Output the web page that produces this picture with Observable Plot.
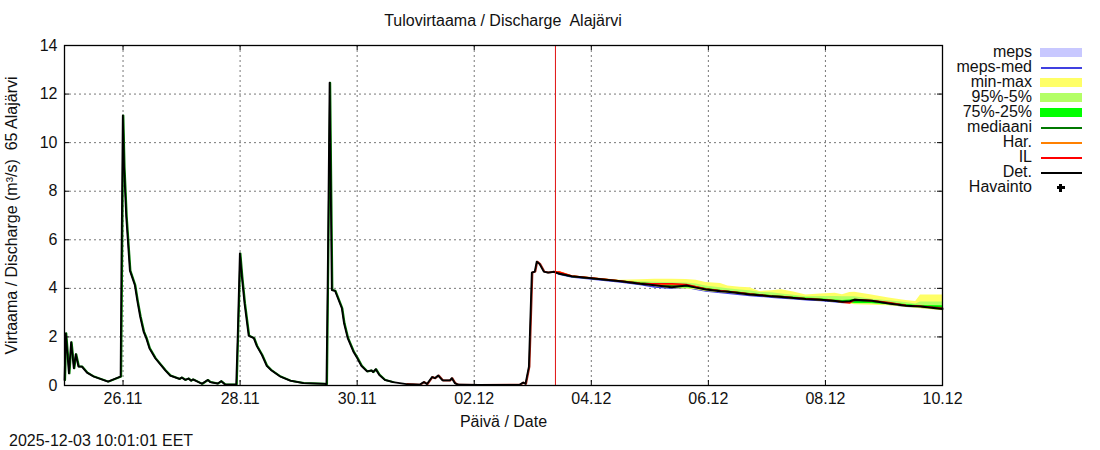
<!DOCTYPE html>
<html><head><meta charset="utf-8">
<script src="https://cdn.jsdelivr.net/npm/d3@7"></script>
<script src="https://cdn.jsdelivr.net/npm/@observablehq/plot@0.6"></script>
<style>
html,body{margin:0;padding:0;background:#fff}
#wrap{position:relative;width:1100px;height:450px;overflow:hidden;font-family:"Liberation Sans",Arial,sans-serif;color:#111}
#wrap svg{display:block;position:absolute;left:0;top:0}
.t{position:absolute;white-space:pre;font-size:16px;line-height:16px}
#title{left:0;width:1006px;top:13px;text-align:center}
#stamp{left:9px;top:433px;font-size:16px}
#legend{position:absolute;left:950px;top:44px;width:140px}
.row{position:absolute;left:0;width:140px;height:15px}
.row span{position:absolute;right:58px;top:0;font-size:16px;line-height:16px;white-space:pre}
.row i{position:absolute;left:90px;width:42px;display:block}
</style></head><body><div id="wrap">
<div class="t" id="title">Tulovirtaama / Discharge  Alajärvi</div>
<div class="t" id="stamp">2025-12-03 10:01:01 EET</div>
<div id="legend"></div>
</div>
<script>
// hours since 25.11 00:00
const t0 = Date.UTC(2025,10,25);
const obsHours = [0,0.5,1.8,2.7,3.8,4.6,5.7,7.1,9.2,11.9,17.8,23,23.3,23.9,24.4,25.3,26.8,28.8,29.9,31,32.4,33.5,34.8,37.2,41.3,43.3,47.1,48,49.5,50.8,51.8,52.6,56.3,58.7,59.7,62.8,64.2,65.8,70.4,71,71.9,72.7,73.8,75.5,77.6,78.8,80.9,82.9,84.6,88.4,92.5,97.9,106.8,107.4,107.9,108.7,109.6,110.9,113.7,114.6,116.1,118.4,120,121.7,124,125.8,126.5,127.6,129,131.3,134.7,140.2,145.6,147.3,148.6,150.7,151.8,153.2,155,158,158.8,160,161.4,170,186.6,188,189,190.4,191.6,192.8,193.6,194.8,196.5,198.2,200.6];
const obsValues = [0.23,2.15,0.5,1.78,0.71,1.29,0.78,0.78,0.53,0.37,0.16,0.37,4.5,11.12,9,6.95,4.73,4.14,3.45,2.84,2.22,1.95,1.53,1.12,0.62,0.41,0.27,0.33,0.23,0.29,0.2,0.25,0.07,0.23,0.14,0.08,0.18,0.04,0.04,2,5.44,4.48,3.38,2.05,1.95,1.63,1.26,0.81,0.64,0.37,0.2,0.1,0.07,0.05,4.2,12.47,3.93,3.9,3.18,2.56,1.95,1.4,1.13,0.81,0.58,0.62,0.55,0.67,0.44,0.23,0.14,0.06,0.03,0.14,0.06,0.35,0.3,0.41,0.21,0.21,0.3,0.1,0.03,0.02,0.03,0.12,0.07,0.78,4.65,4.69,5.1,5.0,4.69,4.65,4.68];

const fcHours = [200.6,203,208,222,228,236,242,249,255,259,263,269,272,277,281,285,290,294,299,304,310,316,319,322,324,331,338,345,349,351,360];
const det   = [4.68,4.6,4.5,4.35,4.29,4.19,4.13,4.05,4.12,4.03,3.95,3.88,3.86,3.8,3.75,3.72,3.67,3.64,3.6,3.56,3.53,3.48,3.45,3.47,3.53,3.49,3.38,3.28,3.26,3.25,3.15];
const il    = [4.68,4.66,4.51,4.36,4.3,4.2,4.19,4.19,4.16,4.07,3.97,3.9,3.87,3.82,3.77,3.73,3.68,3.66,3.61,3.57,3.54,3.49,3.43,3.4,3.54,3.5,3.42,3.29,3.28,3.26,3.17];
const har   = [4.68,4.68,4.51,4.37,4.3,4.21,4.17,4.16,4.15,4.06,3.96,3.89,3.87,3.81,3.76,3.73,3.68,3.65,3.61,3.57,3.53,3.49,3.45,3.44,3.53,3.49,3.4,3.29,3.27,3.25,3.16];
const med   = [4.68,4.6,4.49,4.35,4.3,4.22,4.18,4.12,4.12,4.05,3.97,3.9,3.87,3.82,3.78,3.74,3.69,3.66,3.61,3.57,3.53,3.48,3.44,3.46,3.5,3.47,3.39,3.3,3.27,3.26,3.2];
const mepsMed = [4.68,4.58,4.47,4.32,4.26,4.16,4.06,4.0,4.04,3.96,3.89,3.83,3.8,3.75,3.71,3.68,3.63,3.6,3.57,3.53,3.5,3.45,3.42,3.43,3.47,3.44,3.35,3.26,3.24,3.22,3.14];
const mepsHi = [4.68,4.62,4.5,4.36,4.3,4.22,4.16,4.08,4.14,4.05,3.96,3.9,3.87,3.81,3.76,3.73,3.68,3.65,3.61,3.57,3.54,3.49,3.46,3.48,3.54,3.5,3.4,3.3,3.28,3.26,3.18];
const mepsLo = [4.66,4.56,4.45,4.3,4.24,4.14,4.04,3.98,4.02,3.94,3.87,3.81,3.78,3.73,3.69,3.66,3.61,3.58,3.55,3.51,3.48,3.43,3.4,3.41,3.45,3.42,3.33,3.24,3.22,3.2,3.12];
const minTop = [4.68,4.68,4.52,4.37,4.33,4.35,4.37,4.38,4.36,4.33,4.24,4.2,4.1,4.05,4.03,3.87,3.9,3.94,3.85,3.73,3.77,3.8,3.74,3.83,3.84,3.73,3.6,3.5,3.46,3.73,3.73];
const minLow = [4.66,4.58,4.47,4.32,4.26,4.15,4.08,3.98,3.97,3.94,3.87,3.82,3.8,3.75,3.71,3.68,3.63,3.6,3.56,3.52,3.49,3.44,3.38,3.36,3.33,3.3,3.28,3.22,3.18,3.16,3.08];
const p95Top = [4.68,4.66,4.51,4.36,4.31,4.27,4.25,4.23,4.22,4.18,4.1,4.02,3.98,3.93,3.9,3.83,3.82,3.77,3.72,3.65,3.66,3.66,3.65,3.65,3.65,3.55,3.49,3.42,3.36,3.44,3.44];
const p95Low = [4.66,4.59,4.48,4.33,4.27,4.16,4.09,4.0,3.99,3.96,3.89,3.84,3.82,3.77,3.72,3.69,3.64,3.61,3.57,3.53,3.5,3.45,3.4,3.38,3.36,3.35,3.3,3.24,3.2,3.18,3.1];
const q75Top = [4.68,4.63,4.5,4.35,4.3,4.22,4.18,4.14,4.13,4.08,4.0,3.92,3.89,3.84,3.78,3.75,3.71,3.68,3.64,3.6,3.57,3.52,3.5,3.52,3.55,3.5,3.42,3.34,3.3,3.29,3.28];
const q75Low = [4.67,4.6,4.49,4.34,4.28,4.18,4.11,4.03,4.02,4.0,3.93,3.86,3.84,3.78,3.73,3.7,3.65,3.62,3.58,3.54,3.51,3.46,3.43,3.4,3.38,3.38,3.33,3.27,3.24,3.23,3.13];

const tickDates = [[2025,10,26],[2025,10,28],[2025,10,30],[2025,11,2],[2025,11,4],[2025,11,6],[2025,11,8],[2025,11,10]];
const tickLabels = ["26.11","28.11","30.11","02.12","04.12","06.12","08.12","10.12"];
const yTicks = [0,2,4,6,8,10,12,14];
const nowHour = 201.3;

const date = h => new Date(t0 + h*3600000);
const xTicks = tickDates.map(d => new Date(Date.UTC(...d)));
const labelOf = new Map(xTicks.map((d,i)=>[+d,tickLabels[i]]));
const obs = obsHours.map((h,i)=>({t:date(h),h,v:obsValues[i]}));
const fc = fcHours.map((h,i)=>({t:date(h),h,det:det[i],il:il[i],har:har[i],med:med[i],mm:mepsMed[i],
  mh:mepsHi[i],ml:mepsLo[i],a1:minTop[i],a2:minLow[i],b1:p95Top[i],b2:p95Low[i],c1:q75Top[i],c2:q75Low[i]}));

const C = {meps:"#c8c8ff",mepsMed:"#4040e0",minmax:"#ffff66",p95:"#b3ff66",q75:"#00ff00",med:"#007800",har:"#ff8000",il:"#ff0000",det:"#000"};
const W = 1100, H = 450, mL = 64, mR = 158, mT = 45, mB = 65;
const plotW = W-mL-mR, plotH = H-mT-mB;

const chart = Plot.plot({
  width:W,height:H,marginLeft:mL,marginRight:mR,marginTop:mT,marginBottom:mB,
  style:{fontFamily:'"Liberation Sans",Arial,sans-serif',fontSize:"16px",color:"#111",background:"#fff",whiteSpace:"pre"},
  x:{type:"utc",domain:[date(0),date(360)]},
  y:{domain:[0,14]},
  marks:[
    Plot.gridX(xTicks,{stroke:"#777",strokeOpacity:1,strokeDasharray:"2,3",strokeWidth:1}),
    Plot.gridY(yTicks,{stroke:"#777",strokeOpacity:1,strokeDasharray:"2,3",strokeWidth:1}),
    Plot.areaY(fc,{x:"t",y1:"ml",y2:"mh",fill:C.meps}),
    Plot.line(fc,{x:"t",y:"mm",stroke:C.mepsMed,strokeWidth:1.5}),
    Plot.areaY(fc,{x:"t",y1:"a2",y2:"a1",fill:C.minmax}),
    Plot.areaY(fc,{x:"t",y1:"b2",y2:"b1",fill:C.p95}),
    Plot.areaY(fc,{x:"t",y1:"c2",y2:"c1",fill:C.q75}),
    Plot.line(obs.filter(d=>d.h<=140 && ![23.3,71,107.9].includes(d.h)),{x:"t",y:"v",stroke:C.med,strokeWidth:2,dx:0.6}),
    Plot.line(fc,{x:"t",y:"med",stroke:C.med,strokeWidth:1.5}),
    Plot.line(fc,{x:"t",y:"har",stroke:C.har,strokeWidth:1.5}),
    Plot.line(obs.filter(d=>d.h>=140),{x:"t",y:"v",stroke:"#a02010",strokeWidth:2,dx:0.6}),
    Plot.line(fc,{x:"t",y:"il",stroke:C.il,strokeWidth:1.5}),
    Plot.line(obs,{x:"t",y:"v",stroke:C.det,strokeWidth:1.8}),
    Plot.line(fc,{x:"t",y:"det",stroke:C.det,strokeWidth:2}),
    Plot.ruleX([date(nowHour)],{stroke:"#e01010",strokeWidth:1}),
    Plot.ruleY(yTicks,{stroke:"#000",insetRight:plotW-5}),
    Plot.ruleY(yTicks,{stroke:"#000",insetLeft:plotW-5}),
    Plot.ruleX(xTicks,{stroke:"#000",insetTop:plotH-5}),
    Plot.ruleX(xTicks,{stroke:"#000",insetBottom:plotH-5}),
    Plot.axisY(yTicks,{anchor:"left",tickSize:0,tickPadding:7,label:"Virtaama / Discharge (m³/s)  65 Alajärvi",labelAnchor:"center",labelArrow:"none",labelOffset:59,tickFormat:d=>String(d)}),
    Plot.axisX(xTicks,{anchor:"bottom",tickSize:0,tickPadding:7,label:"Päivä / Date",labelAnchor:"center",labelArrow:"none",labelOffset:41,tickFormat:d=>labelOf.get(+d)}),
    Plot.frame({stroke:"#000",strokeWidth:1.3})
  ]
});
document.getElementById("wrap").prepend(chart);

const legendItems = [
  ["meps","band",C.meps],["meps-med","line",C.mepsMed],["min-max","band",C.minmax],["95%-5%","band",C.p95],
  ["75%-25%","band",C.q75],["mediaani","line",C.med],["Har.","line",C.har],["IL","line",C.il],["Det.","line",C.det],["Havainto","mark","#000"]
];
const lg = document.getElementById("legend");
legendItems.forEach(([name,kind,col],i)=>{
  const r = document.createElement("div"); r.className="row"; r.style.top=(i*15)+"px";
  const s = document.createElement("span"); s.textContent=name; r.appendChild(s);
  if(kind==="band"){const b=document.createElement("i");b.style.cssText=`top:4px;height:9px;background:${col};left:90px;width:42px`;r.appendChild(b);}
  if(kind==="line"){const b=document.createElement("i");b.style.cssText=`top:8px;height:2px;background:${col};left:91px;width:41px`;r.appendChild(b);}
  if(kind==="mark"){
    const a=document.createElement("i");a.style.cssText="top:5px;height:8px;width:3px;left:109px;background:#000";r.appendChild(a);
    const b=document.createElement("i");b.style.cssText="top:7px;height:3px;width:8px;left:107px;background:#000";r.appendChild(b);
  }
  lg.appendChild(r);
});
</script></body></html>
